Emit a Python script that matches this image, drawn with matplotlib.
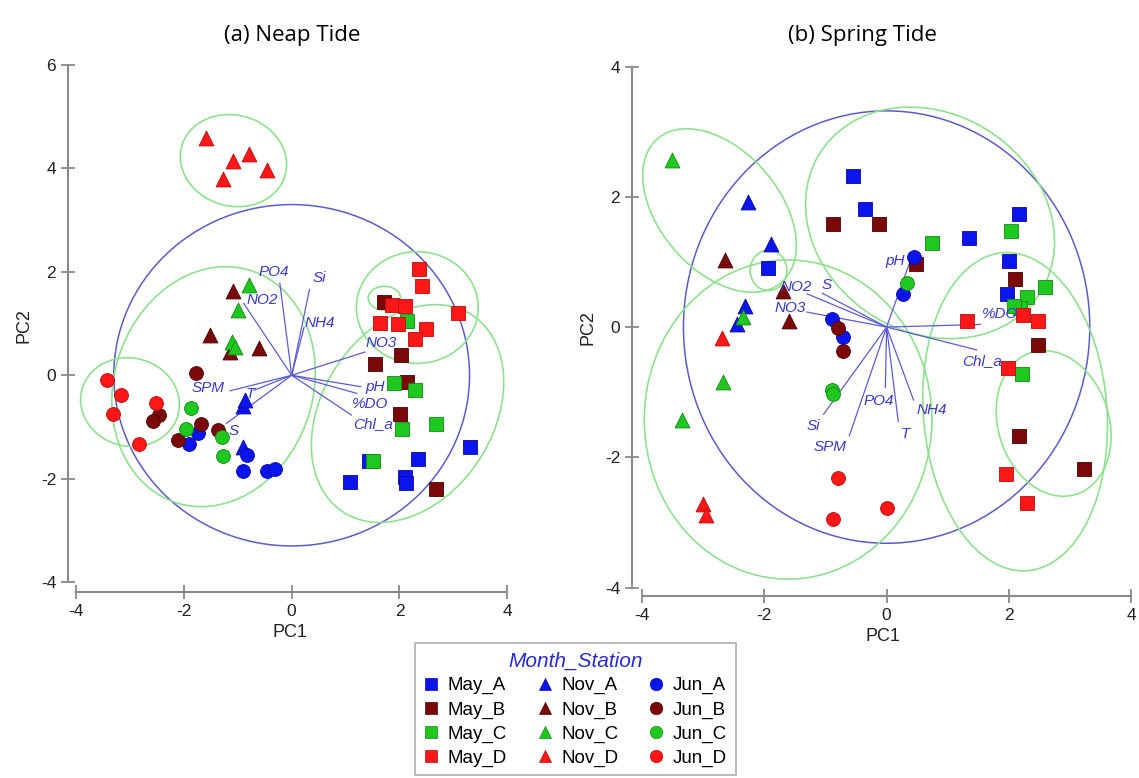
import matplotlib.pyplot as plt
from matplotlib.patches import Ellipse
from matplotlib.lines import Line2D

plt.rcParams['font.family'] = ['Liberation Sans', 'DejaVu Sans']
plt.rcParams['axes.unicode_minus'] = False

#-------------------------------data: (a) neap tide----------------------------------

neap_group = (['May_A'] * 6 + ['May_B'] * 6 + ['May_C'] * 6 + ['May_D'] * 9 +
              ['Nov_A'] * 3 + ['Nov_B'] * 4 + ['Nov_C'] * 4 + ['Nov_D'] * 5 +
              ['Jun_A'] * 6 + ['Jun_B'] * 6 + ['Jun_C'] * 4 + ['Jun_D'] * 5)
neap_pc1 = [3.31, 2.35, 2.10, 2.12, 1.09, 1.44,
            1.71, 2.02, 1.55, 2.14, 2.01, 2.68,
            2.14, 1.90, 2.29, 2.04, 2.68, 1.51,
            2.37, 2.41, 1.86, 2.10, 1.63, 1.98, 2.50, 2.29, 3.08,
            -0.91, -0.87, -0.91,
            -1.08, -1.52, -1.14, -0.60,
            -0.79, -1.00, -1.11, -1.06,
            -1.59, -1.09, -0.79, -0.46, -1.28,
            -1.73, -1.91, -0.83, -0.91, -0.45, -0.31,
            -2.46, -2.57, -1.78, -1.68, -1.36, -2.10,
            -1.87, -1.96, -1.29, -1.27,
            -3.42, -3.17, -3.32, -2.52, -2.83]
neap_pc2 = [-1.38, -1.62, -1.96, -2.09, -2.07, -1.65,
            1.42, 0.40, 0.22, -0.13, -0.75, -2.19,
            1.05, -0.14, -0.29, -1.03, -0.94, -1.65,
            2.05, 1.73, 1.36, 1.33, 1.02, 1.00, 0.89, 0.71, 1.21,
            -0.60, -0.47, -1.38,
            1.62, 0.78, 0.45, 0.53,
            1.74, 1.26, 0.65, 0.55,
            4.58, 4.15, 4.28, 3.97, 3.79,
            -1.12, -1.32, -1.54, -1.85, -1.85, -1.81,
            -0.76, -0.88, 0.04, -0.94, -1.05, -1.25,
            -0.64, -1.03, -1.19, -1.56,
            -0.09, -0.38, -0.74, -0.53, -1.32]

neap_vars = ['PO4', 'Si', 'NO2', 'NH4', 'NO3', 'pH', '%DO', 'Chl_a', 'SPM', 'T', 'S']
neap_load1 = [-0.22, 0.33, -0.89, 0.23, 1.36, 1.28, 1.21, 1.11, -1.14, -0.70, -1.21]
neap_load2 = [1.78, 1.66, 1.39, 0.93, 0.45, -0.22, -0.35, -0.77, -0.30, -0.29, -0.93]

# cluster envelopes: centre x, centre y, width, height, angle
neap_ell_cx = [-1.08, -3.00, -1.45, 2.15, 2.33, 1.72]
neap_ell_cy = [4.15, -0.52, -0.22, -0.74, 1.31, 1.49]
neap_ell_w = [2.0, 1.85, 3.7, 3.2, 2.26, 0.60]
neap_ell_h = [1.75, 1.70, 4.7, 4.5, 2.16, 0.46]
neap_ell_ang = [-20, -20, -15, -30, 0, 0]

#-------------------------------data: (b) spring tide--------------------------------

spring_group = (['May_A'] * 7 + ['May_B'] * 7 + ['May_C'] * 7 + ['May_D'] * 6 +
                ['Nov_A'] * 4 + ['Nov_B'] * 3 + ['Nov_C'] * 4 + ['Nov_D'] * 3 +
                ['Jun_A'] * 4 + ['Jun_B'] * 2 + ['Jun_C'] * 3 + ['Jun_D'] * 3)
spring_pc1 = [-1.93, -0.55, -0.36, 1.34, 2.17, 2.00, 1.96,
              -0.87, -0.12, 0.48, 2.10, 2.48, 2.17, 3.23,
              0.74, 2.03, 2.59, 2.30, 2.18, 2.08, 2.21,
              1.32, 2.23, 2.48, 1.99, 1.95, 2.30,
              -2.26, -1.89, -2.32, -2.44,
              -2.64, -1.69, -1.59,
              -3.51, -2.34, -2.67, -3.35,
              -2.69, -3.00, -2.95,
              -0.90, -0.71, 0.45, 0.26,
              -0.80, -0.72,
              -0.90, -0.87, 0.34,
              -0.80, -0.87, 0.00]
spring_pc2 = [0.91, 2.32, 1.82, 1.37, 1.73, 1.02, 0.51,
              1.59, 1.59, 0.97, 0.74, -0.28, -1.68, -2.18,
              1.29, 1.48, 0.61, 0.46, 0.30, 0.33, -0.72,
              0.09, 0.18, 0.09, -0.63, -2.26, -2.70,
              1.92, 1.27, 0.32, 0.05,
              1.03, 0.56, 0.10,
              2.56, 0.15, -0.85, -1.42,
              -0.17, -2.71, -2.88,
              0.13, -0.15, 1.08, 0.51,
              -0.01, -0.36,
              -0.97, -1.03, 0.67,
              -2.31, -2.95, -2.78]

spring_vars = ['NO2', 'S', 'NO3', 'pH', '%DO', 'Chl_a', 'NH4', 'T', 'PO4', 'Si', 'SPM']
spring_load1 = [-1.30, -1.05, -1.30, 0.41, 1.53, 1.47, 0.44, 0.19, -0.02, -1.03, -0.61]
spring_load2 = [0.51, 0.52, 0.23, 1.08, 0.04, -0.35, -1.12, -1.45, -0.93, -1.34, -1.67]

spring_ell_cx = [-2.73, -1.93, -1.61, 0.71, 2.10, 2.73]
spring_ell_cy = [1.79, 0.87, -1.42, 1.60, -1.30, -1.48]
spring_ell_w = [3.0, 0.60, 4.7, 4.2, 3.0, 1.8]
spring_ell_h = [1.9, 0.62, 4.9, 3.4, 4.9, 2.3]
spring_ell_ang = [-45, 0, 0, -25, 5, 22]

#-------------------------------styles-----------------------------------------------

group_order = ['May_A', 'May_B', 'May_C', 'May_D',
               'Nov_A', 'Nov_B', 'Nov_C', 'Nov_D',
               'Jun_A', 'Jun_B', 'Jun_C', 'Jun_D']
station_col = {'A': '#0a14ee', 'B': '#7a0808', 'C': '#1ec81e', 'D': '#ff1616'}
station_edge = {'A': '#0a0a9a', 'B': '#4a0404', 'C': '#118a11', 'D': '#b80c0c'}
month_marker = {'May': 's', 'Nov': '^', 'Jun': 'o'}
month_size = {'May': 95, 'Nov': 115, 'Jun': 100}

# label anchor positions for the variable names (layout only)
neap_lab = {'PO4': (-0.33, 1.99), 'Si': (0.51, 1.89), 'NO2': (-0.54, 1.45),
            'NH4': (0.53, 1.02), 'NO3': (1.67, 0.63), 'pH': (1.55, -0.22),
            '%DO': (1.45, -0.56), 'Chl_a': (1.51, -0.94), 'SPM': (-1.55, -0.25),
            'T': (-0.77, -0.36), 'S': (-1.08, -1.07)}
spring_lab = {'NO2': (-1.47, 0.61), 'S': (-0.98, 0.64), 'NO3': (-1.58, 0.30),
              'pH': (0.14, 1.02), '%DO': (1.85, 0.20), 'Chl_a': (1.56, -0.52),
              'NH4': (0.74, -1.28), 'T': (0.30, -1.64), 'PO4': (-0.13, -1.13),
              'Si': (-1.20, -1.52), 'SPM': (-0.92, -1.84)}

fig = plt.figure(figsize=(11.39, 7.78), dpi=100)
ax1 = fig.add_axes([0.0597, 0.2391, 0.3904, 0.6841])
ax2 = fig.add_axes([0.5549, 0.2339, 0.4411, 0.6889])


def draw_panel(ax, pc1, pc2, group, vars_, l1, l2, labs, ecx, ecy, ew, eh, ea, radius):
    # correlation circle
    ax.add_patch(Ellipse((0, 0), 2 * radius, 2 * radius, fill=False,
                         edgecolor='#5c5cc8', lw=1.1, zorder=1))
    for i in range(len(ecx)):
        ax.add_patch(Ellipse((ecx[i], ecy[i]), ew[i], eh[i], angle=ea[i], fill=False,
                             edgecolor='#8fe08f', lw=1.2, zorder=1))
    for i, v in enumerate(vars_):
        ax.plot([0, l1[i]], [0, l2[i]], color='#5c5cd0', lw=0.9, zorder=2)
        ax.text(labs[v][0], labs[v][1], v, color='#3a3ac8', fontsize=11,
                style='italic', ha='center', va='center', zorder=4)
    for g in group_order:
        m, s = g.split('_')
        xs = [pc1[i] for i in range(len(group)) if group[i] == g]
        ys = [pc2[i] for i in range(len(group)) if group[i] == g]
        ax.scatter(xs, ys, marker=month_marker[m], s=month_size[m],
                   c=station_col[s], edgecolors=station_edge[s], linewidths=0.6, zorder=3)

    for side in ['top', 'right']:
        ax.spines[side].set_visible(False)
    for side in ['left', 'bottom']:
        ax.spines[side].set_color('#8a8a8a')
        ax.spines[side].set_linewidth(1.5)
    ax.tick_params(direction='inout', length=10, width=1.3, color='#8a8a8a',
                   labelsize=12.5, labelcolor='#222222')


draw_panel(ax1, neap_pc1, neap_pc2, neap_group, neap_vars, neap_load1, neap_load2,
           neap_lab, neap_ell_cx, neap_ell_cy, neap_ell_w, neap_ell_h, neap_ell_ang, 3.3)
draw_panel(ax2, spring_pc1, spring_pc2, spring_group, spring_vars, spring_load1, spring_load2,
           spring_lab, spring_ell_cx, spring_ell_cy, spring_ell_w, spring_ell_h, spring_ell_ang, 3.32)

ax1.set_xlim(-4.15, 4.1)
ax1.set_ylim(-4.19, 6.1)
ax1.set_xticks([-4, -2, 0, 2, 4])
ax1.set_yticks([-4, -2, 0, 2, 4, 6])
ax1.spines['left'].set_bounds(-4, 6)
ax1.spines['bottom'].set_bounds(-4, 4)

ax2.set_xlim(-4.16, 4.05)
ax2.set_ylim(-4.13, 4.1)
ax2.set_xticks([-4, -2, 0, 2, 4])
ax2.set_yticks([-4, -2, 0, 2, 4])
ax2.spines['left'].set_bounds(-4, 4)
ax2.spines['bottom'].set_bounds(-4, 4)

for ax in [ax1, ax2]:
    ax.set_xlabel('PC1', fontsize=13, color='#222222', labelpad=4)
    ax.set_ylabel('PC2', fontsize=13, color='#222222', labelpad=6)

fig.text(292 / 1139, 1 - 35 / 778, '(a) Neap Tide', fontsize=16, ha='center', va='center',
         family=['Open Sans', 'DejaVu Sans'])
fig.text(862 / 1139, 1 - 35 / 778, '(b) Spring Tide', fontsize=16, ha='center', va='center',
         family=['Open Sans', 'DejaVu Sans'])

handles = []
for g in group_order:
    m, s = g.split('_')
    handles.append(Line2D([], [], marker=month_marker[m], linestyle='none', markersize=9,
                          markerfacecolor=station_col[s], markeredgecolor=station_edge[s],
                          markeredgewidth=0.5))
leg = fig.legend(handles, group_order, ncol=3, loc='upper left',
                 bbox_to_anchor=(415 / 1139, 1 - 643 / 778), borderaxespad=0, fontsize=13.5,
                 title='Month_Station', frameon=True, fancybox=False, edgecolor='#9a9a9a',
                 handlelength=0.8, handletextpad=0.5, columnspacing=1.6, labelspacing=0.36,
                 borderpad=0.45)
leg.get_frame().set_linewidth(1.2)
leg.get_title().set_color('#2a2ad0')
leg.get_title().set_fontstyle('italic')
leg.get_title().set_fontsize(15)

plt.savefig('out.png', dpi=100)
